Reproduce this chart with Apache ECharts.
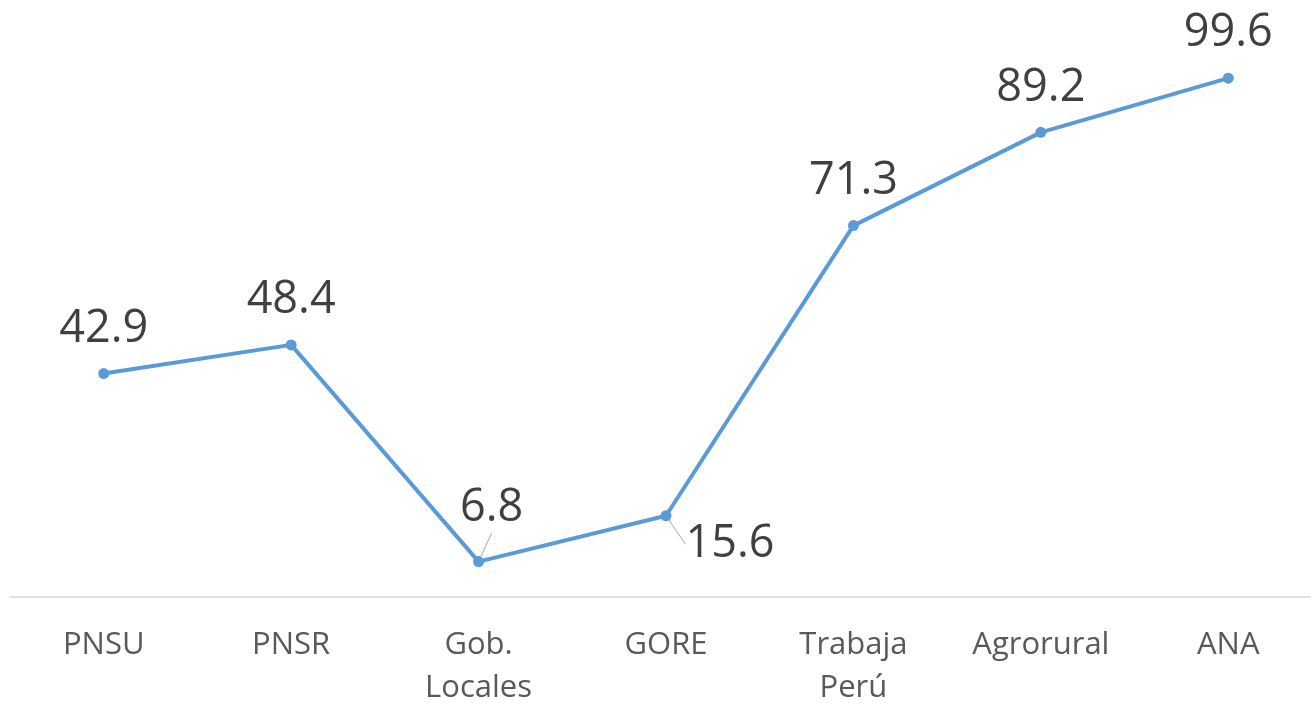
<!DOCTYPE html>
<html>
<head>
<meta charset="utf-8">
<script src="https://cdn.jsdelivr.net/npm/echarts@6/dist/echarts.min.js"></script>
<style>
html, body { margin: 0; padding: 0; background: #fff; }
#chart { width: 1311px; height: 709px; }
</style>
</head>
<body>
<div id="chart"></div>
<script>
var categories = ['PNSU', 'PNSR', 'Gob.\nLocales', 'GORE', 'Trabaja\nPerú', 'Agrorural', 'ANA'];
var values = [42.9, 48.4, 6.8, 15.6, 71.3, 89.2, 99.6];

var lineColor = '#5b9bd5';
var fontName = '"Open Sans", sans-serif';

var chart = echarts.init(document.getElementById('chart'));

// los dos puntos bajos llevan la etiqueta desplazada con linea guia
var seriesData = values.map(function (v, i) {
	var item = { value: v };
	if (i === 2 || i === 3) {
		item.labelLine = { show: true };
	}
	return item;
});

var option = {
	backgroundColor: '#fff',
	animation: false,
	grid: {
		left: 10,
		width: 1312,
		top: 24,
		bottom: 112,
		containLabel: false,
		outerBoundsMode: 'none'
	},
	xAxis: {
		type: 'category',
		data: categories,
		boundaryGap: true,
		axisLine: {
			lineStyle: { color: '#d9d9d9', width: 1.5 }
		},
		axisTick: { show: false },
		splitLine: { show: false },
		axisLabel: {
			interval: 0,
			margin: 27,
			color: '#595959',
			fontFamily: fontName,
			fontSize: 31,
			lineHeight: 43
		}
	},
	yAxis: {
		type: 'value',
		min: 0,
		max: 110,
		show: false,
		splitLine: { show: false }
	},
	series: [{
		type: 'line',
		data: seriesData,
		symbol: 'circle',
		symbolSize: 11,
		itemStyle: { color: lineColor },
		lineStyle: { color: lineColor, width: 4 },
		label: {
			show: true,
			position: 'top',
			distance: 14,
			color: '#404040',
			fontFamily: fontName,
			fontSize: 45,
			lineHeight: 50
		},
		labelLine: {
			show: false,
			lineStyle: { color: '#a6a6a6', width: 1 }
		},
		labelLayout: function (params) {
			if (params.dataIndex === 2) {
				return { dx: 13, dy: -9 };
			}
			if (params.dataIndex === 3) {
				return { dx: 64, dy: 73 };
			}
			return {};
		}
	}]
};

chart.setOption(option);
</script>
</body>
</html>
